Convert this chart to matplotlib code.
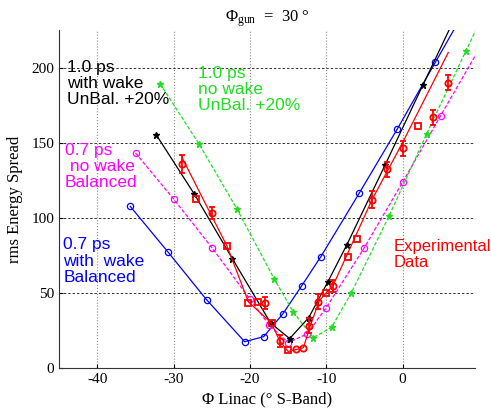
import numpy as np
import matplotlib
matplotlib.use("Agg")
import matplotlib.pyplot as plt

# simulation curves (phase in deg S-band, rms energy spread)
blue_x = [-35.7, -30.7, -25.7, -20.7, -18.2, -15.7, -13.2, -10.7, -5.7, -0.7, 4.3, 9.3]
blue_y = [107.6, 76.9, 45.5, 17.5, 20.9, 36.0, 54.9, 74.2, 116.2, 159.0, 203.5, 248.0]

black_x = [-32.3, -27.3, -22.3, -17.3, -14.8, -12.3, -9.8, -7.3, -2.3, 2.7, 7.7]
black_y = [155.3, 115.8, 72.7, 30.0, 19.6, 33.5, 57.3, 82.0, 135.0, 188.7, 242.0]

green_x = [-31.8, -26.7, -21.7, -16.8, -14.3, -11.7, -9.3, -6.7, -1.75, 3.15, 8.3, 13.3]
green_y = [189.3, 149.3, 105.8, 59.1, 37.1, 20.2, 27.1, 50.2, 101.3, 155.8, 211.0, 264.0]

magenta_x = [-35.0, -30.0, -25.0, -20.0, -17.5, -15.0, -12.5, -10.0, -5.0, 0.0, 5.0, 10.0]
magenta_y = [143.1, 112.4, 80.2, 45.8, 28.7, 16.9, 22.7, 40.2, 80.2, 123.6, 168.0, 212.0]

# experimental data
exp_x = [-28.9, -27.1, -25.0, -23.0, -20.2, -18.9, -18.0, -17.1, -16.1, -15.0, -14.0, -13.0,
         -12.2, -11.1, -10.1, -9.1, -7.1, -6.0, -4.0, -2.0, 0.0, 2.0, 4.0, 6.0]
exp_y = [136.0, 112.4, 103.0, 81.5, 43.5, 44.2, 43.1, 29.8, 18.0, 12.0, 12.4, 13.6,
         28.0, 44.2, 49.8, 54.7, 74.2, 86.0, 112.0, 132.4, 146.4, 160.9, 166.9, 189.8]
exp_err = [6, 0, 4, 0, 0, 0, 4, 0, 4, 0, 0, 0,
           5, 5, 0, 4, 0, 0, 5.5, 5, 5, 0, 5, 5]
exp_mk = ['o', 's', 'o', 's', 's', 's', 'o', 's', 'o', 's', 'o', 'o',
          'o', 'o', 's', 'o', 's', 's', 'o', 'o', 'o', 's', 'o', 'o']

fit_x = [-28.9, -23.0, -20.2, -17.2, -16.1, -15.0, -13.0, -12.1, -10.9, -9.1, -4.0, 0.0, 6.0]
fit_y = [140.0, 81.0, 44.0, 30.0, 18.0, 11.0, 13.5, 28.0, 45.0, 55.0, 112.0, 150.0, 210.0]

xticks = [-40, -30, -20, -10, 0]
yticks = [0, 50, 100, 150, 200]

serif = 'Liberation Serif'
sans = 'Liberation Sans'
green = '#22dd22'

plt.rcParams['font.family'] = serif
plt.rcParams['axes.unicode_minus'] = False
plt.rcParams['mathtext.fontset'] = 'custom'
plt.rcParams['mathtext.rm'] = serif
plt.rcParams['mathtext.it'] = serif + ':italic'

fig = plt.figure(figsize=(4.91, 4.08), dpi=100)
ax = fig.add_axes([0.1208, 0.098, 0.8466, 0.8285])

ax.plot(blue_x, blue_y, '-o', color='blue', lw=0.9, ms=4.5, mfc='none', mew=0.9)
ax.plot(magenta_x, magenta_y, '--o', color='magenta', lw=0.9, ms=4.5, mfc='none', mew=0.9,
        dashes=(3, 1.5))
ax.plot(green_x, green_y, '--*', color=green, lw=0.9, ms=5, dashes=(3, 1.5))
ax.plot(black_x, black_y, '-*', color='black', lw=0.9, ms=5)

ax.plot(fit_x, fit_y, '-', color='red', lw=0.9)
for x, y, e, m in zip(exp_x, exp_y, exp_err, exp_mk):
    ax.errorbar(x, y, yerr=e if e > 0 else None, fmt=m, color='red', ms=4.5,
                mfc='none', mew=1.3, elinewidth=1.3, capsize=2.5, capthick=1.3)

ax.set_xlim(-45, 9.5)
ax.set_ylim(0, 225)
ax.set_xticks(xticks)
ax.set_yticks(yticks)
ax.tick_params(direction='in', length=3, labelsize=11, width=0.8)
ax.xaxis.grid(True, color='#888888', ls=':', lw=0.8)
ax.yaxis.grid(True, color='#333333', ls=(0, (2.5, 2)), lw=0.7)
ax.set_axisbelow(True)
for s in ['top', 'right']:
    ax.spines[s].set_visible(False)
for s in ['left', 'bottom']:
    ax.spines[s].set_linewidth(0.8)
    ax.spines[s].set_color('#333333')

ax.set_xlabel('Φ Linac (° S-Band)', fontsize=12, labelpad=4)
ax.set_ylabel('rms Energy Spread', fontsize=12, labelpad=6)
ax.set_title(r'$\Phi_{\rm gun}$  =  30 °', fontsize=12, pad=6)

kw = dict(fontfamily=sans, fontsize=12.5, va='top', ha='left', linespacing=1.1)
ax.text(-44, 205, '1.0 ps\nwith wake\nUnBal. +20%', color='black', **kw)
ax.text(-26.8, 201, '1.0 ps\nno wake\nUnBal. +20%', color=green, **kw)
ax.text(-44.3, 150, '0.7 ps\n no wake\nBalanced', color='magenta', **kw)
ax.text(-44.5, 87, '0.7 ps\nwith  wake\nBalanced', color='blue', **kw)
kw['fontsize'] = 12
ax.text(-1.2, 86, 'Experimental\nData', color='red', **kw)

fig.savefig('out.png', dpi=100)
